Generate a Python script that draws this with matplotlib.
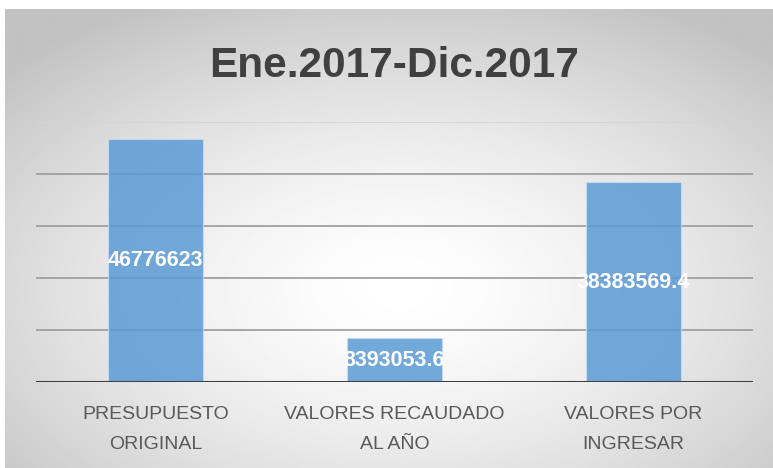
import numpy as np
import matplotlib
matplotlib.use("Agg")
import matplotlib.pyplot as plt  # noqa: E402

plt.rcParams["font.family"] = ["Liberation Sans", "DejaVu Sans"]

# data
categories = ["PRESUPUESTO\nORIGINAL", "VALORES RECAUDADO\nAL AÑO",
              "VALORES POR\nINGRESAR"]
values = [46776623, 8393053.6, 38383569.4]
value_labels = ["46776623", "8393053.6", "38383569.4"]
title = "Ene.2017-Dic.2017"

W, H = 773, 468
fig = plt.figure(figsize=(W / 100, H / 100), dpi=100)

# radial grey background like the Excel chart area
bg = fig.add_axes([0, 0, 1, 1], zorder=0)
bg.set_xlim(0, W)
bg.set_ylim(H, 0)
bg.axis("off")
x0, y0 = 5, 9
xs = np.linspace(x0, W, 400)
ys = np.linspace(y0, H, 300)
gx, gy = np.meshgrid(xs, ys)
cx, cy = 400, 290
t = np.sqrt(((gx - cx) / ((W - x0) / 2)) ** 2 + ((gy - cy) / ((H - y0) / 2)) ** 2)
t = np.clip(t / np.sqrt(2), 0, 1)
shade = 1 - 0.24 * t ** 1.5
bg.imshow(shade, cmap="gray", vmin=0, vmax=1, extent=(x0, W, H, y0),
          aspect="auto", interpolation="bilinear")

ax = fig.add_axes([36 / W, (H - 382) / H, (753 - 36) / W, (382 - 122) / H],
                  zorder=1)
ax.patch.set_alpha(0)
pos = np.arange(len(values))
ax.bar(pos, values, 0.4, color="#5B9BD5", alpha=0.85,
       edgecolor="#c9dcf0", linewidth=0.8, zorder=2)
for i, (v, lab) in enumerate(zip(values, value_labels)):
    ax.text(i, v / 2, lab, ha="center", va="center", color="white",
            fontsize=15.5, fontweight="bold", zorder=3)

ax.set_xlim(-0.5, len(values) - 0.5)
ax.set_ylim(0, 50000000)
for k, yv in enumerate([10e6, 20e6, 30e6, 40e6, 50e6]):
    ax.axhline(yv, color="#9a9a9a" if k < 4 else "#d4d4d4", lw=1.2, zorder=1)
ax.axhline(0, color="#404040", lw=2.2, zorder=4)
for s in ax.spines.values():
    s.set_visible(False)
ax.set_yticks([])
ax.set_xticks(pos)
for lab in ax.set_xticklabels(categories, fontsize=14, color="#595959"):
    lab.set_linespacing(2.0)
ax.tick_params(axis="x", length=0, pad=17)

fig.text(394 / W, 1 - 77 / H, title, ha="center", va="baseline",
         fontsize=30.5, fontweight="bold", color="#404040")

fig.savefig("out.png", dpi=100)
